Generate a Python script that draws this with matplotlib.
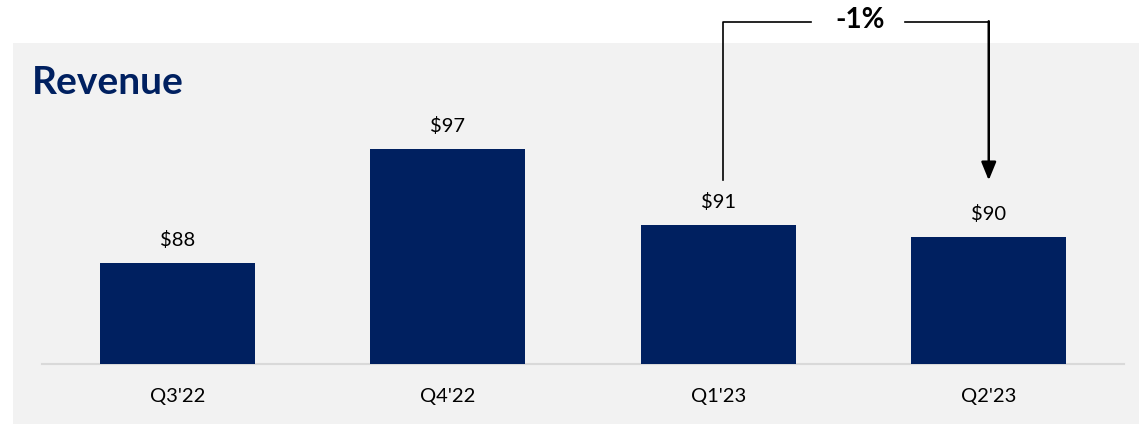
import matplotlib.pyplot as plt
from matplotlib.patches import Rectangle

plt.rcParams['font.family'] = ['Lato', 'DejaVu Sans']

quarters = ["Q3'22", "Q4'22", "Q1'23", "Q2'23"]
revenue = [88, 97, 91, 90]
labels = ["$88", "$97", "$91", "$90"]
change_label = "-1%"

navy = "#002060"
W, H = 1139, 425

fig = plt.figure(figsize=(W / 100, H / 100), dpi=100)
fig.patch.set_facecolor("white")
# grey panel
fig.patches.append(Rectangle((13 / W, 1 / H), 1 - 13 / W, 381 / H,
                             transform=fig.transFigure, facecolor="#F2F2F2",
                             edgecolor="none", zorder=-5))

ax = fig.add_axes([42 / W, 61 / H, 1082 / W, 321 / H])
ax.set_facecolor("none")
x = range(len(quarters))
ax.bar(x, revenue, width=0.573, color=navy, zorder=3)
ax.set_xlim(-0.5, 3.5)
ax.set_ylim(80, 80 + 321 / 12.67)

for i, v in enumerate(revenue):
    ax.annotate(labels[i], (i, v), xytext=(0, 10), textcoords="offset points",
                ha="center", va="bottom", fontsize=14.5, color="black")

ax.set_xticks(list(x))
ax.set_xticklabels(quarters, fontsize=14.5)
ax.tick_params(axis="x", length=0, pad=17.5)
ax.set_yticks([])
for s in ["top", "right", "left"]:
    ax.spines[s].set_visible(False)
ax.spines["bottom"].set_color("#D9D9D9")
ax.spines["bottom"].set_linewidth(1.5)

fig.text(32 / W, 1 - 82 / H, "Revenue", fontsize=28, fontweight="bold",
         color=navy, va="center", ha="left")

# change bracket from Q1'23 to Q2'23
top_y = 107.0
x1, x2 = 2.018, 3.0
y1 = revenue[2] + 3.5
y2 = revenue[3] + 4.5
xm = (x1 + x2) / 2 + 0.015
ax.plot([x1, x1, xm - 0.18], [y1, top_y, top_y], color="black", lw=1.2,
        clip_on=False, zorder=5)
ax.plot([xm + 0.165, x2], [top_y, top_y], color="black", lw=1.2,
        clip_on=False, zorder=5)
ax.annotate("", xy=(x2, y2), xytext=(x2, top_y + 0.05),
            arrowprops=dict(arrowstyle="-|>,head_length=1.1,head_width=0.45",
                            color="black", lw=1.8, shrinkA=0, shrinkB=0),
            annotation_clip=False, zorder=5)
ax.text(xm, top_y + 0.15, change_label, fontsize=20, fontweight="bold",
        ha="center", va="center", clip_on=False)

fig.savefig("out.png", dpi=100)
